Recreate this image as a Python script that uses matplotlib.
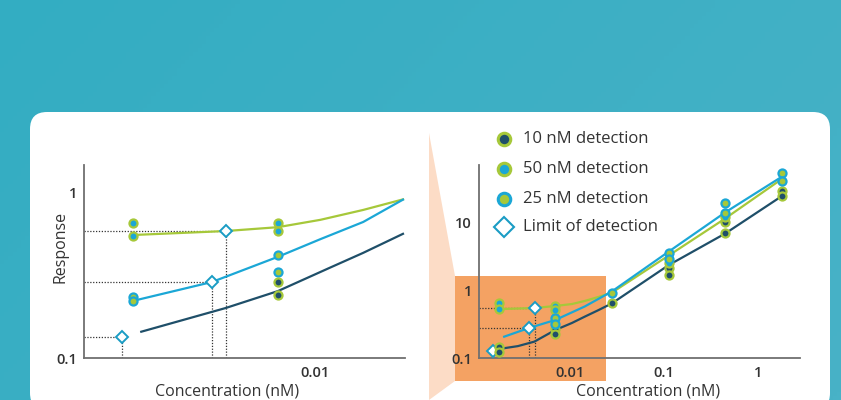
import numpy as np
import matplotlib
matplotlib.use("Agg")
import matplotlib.pyplot as plt
from matplotlib.patches import FancyBboxPatch, Polygon, Rectangle
from matplotlib.lines import Line2D
from matplotlib.colors import LinearSegmentedColormap

plt.rcParams['font.family'] = ['Open Sans', 'DejaVu Sans']

# ---------------- data ----------------
# Left (zoomed) panel
L_x50 = [0.00176, 0.00176, 0.007, 0.007]
L_y50 = [0.653, 0.544, 0.648, 0.582]
L_x25 = [0.00176, 0.00176, 0.007, 0.007]
L_y25 = [0.234, 0.22, 0.42, 0.331]
L_x10 = [0.007, 0.007]
L_y10 = [0.287, 0.24]

L_fit_green_x = [0.00176, 0.00425, 0.007, 0.0105, 0.0158, 0.0231]
L_fit_green_y = [0.551, 0.582, 0.614, 0.68, 0.78, 0.903]
L_fit_blue_x = [0.00176, 0.00373, 0.007, 0.0105, 0.0158, 0.0231]
L_fit_blue_y = [0.221, 0.287, 0.407, 0.52, 0.66, 0.90]
L_fit_dark_x = [0.0019, 0.00425, 0.007, 0.0115, 0.0158, 0.0231]
L_fit_dark_y = [0.144, 0.20, 0.253, 0.35, 0.43, 0.56]

L_lod_x = [0.00158, 0.00373, 0.00425]
L_lod_y = [0.134, 0.287, 0.582]

# Right (full) panel
R_x10 = [0.00176, 0.00176, 0.007, 0.007, 0.028, 0.1125, 0.1125, 0.45, 0.45, 1.8, 1.8]
R_y10 = [0.146, 0.123, 0.266, 0.227, 0.645, 2.14, 1.71, 10.2, 7.1, 29.8, 25.3]
R_x50 = [0.00176, 0.00176, 0.007, 0.007, 0.1125, 0.45]
R_y50 = [0.66, 0.53, 0.595, 0.51, 2.54, 12.3]
R_x25 = [0.007, 0.007, 0.028, 0.1125, 0.1125, 0.45, 0.45, 1.8, 1.8]
R_y25 = [0.387, 0.316, 0.93, 3.63, 2.93, 19.5, 13.9, 54.5, 41.8]

R_fit_green_x = [0.00176, 0.0042, 0.007, 0.0105, 0.0144, 0.02, 0.028, 0.1125, 0.45, 1.8]
R_fit_green_y = [0.53, 0.55, 0.59, 0.63, 0.70, 0.80, 0.93, 3.3, 11.7, 45]
R_fit_blue_x = [0.002, 0.00366, 0.007, 0.0144, 0.028, 0.1125, 0.45, 1.8]
R_fit_blue_y = [0.207, 0.278, 0.366, 0.58, 0.97, 3.77, 14.4, 48.6]
R_fit_dark_x = [0.00176, 0.0028, 0.0042, 0.007, 0.0105, 0.0144, 0.02, 0.028, 0.1125, 0.45, 1.8]
R_fit_dark_y = [0.136, 0.150, 0.175, 0.26, 0.33, 0.41, 0.51, 0.645, 2.38, 7.0, 25.1]

R_lod_x = [0.00153, 0.00366, 0.00424]
R_lod_y = [0.128, 0.278, 0.55]

legend_labels = ["10 nM detection", "50 nM detection", "25 nM detection", "Limit of detection"]

# ---------------- styles ----------------
GREEN = "#a6c83a"
BLUE = "#1ba7d6"
NAVY = "#1f4f69"
TEXT = "#333333"
AXIS = "#707070"
ORANGE = "#f4a263"
PEACH = "#fcdcc6"
DOT = "#333333"

W, H = 841, 400
fig = plt.figure(figsize=(W / 100, H / 100), dpi=100)
tr = fig.dpi_scale_trans


def P(x, y):
    return (x / 100.0, (H - y) / 100.0)


# background gradient
bg = fig.add_axes([0, 0, 1, 1], zorder=-10)
cmap = LinearSegmentedColormap.from_list("bg", ["#33adc2", "#48b2c7"])
gx, gy = np.meshgrid(np.linspace(0, 1, 200), np.linspace(0, 1, 100))
bg.imshow(0.7 * gx + 0.3 * gy, cmap=cmap, aspect="auto", extent=[0, 1, 0, 1], origin="upper")
bg.set_axis_off()

# white card
card = FancyBboxPatch(P(30, 410), 800 / 100, (410 - 112) / 100,
                      boxstyle="round,pad=0,rounding_size=0.17",
                      transform=tr, facecolor="white", edgecolor="none", zorder=-5)
fig.add_artist(card)
# peach connector and orange highlight
peach = Polygon([P(429, 133), P(455, 276), P(455, 381), P(429, 400)], closed=True,
                transform=tr, facecolor=PEACH, edgecolor="none", zorder=-4)
fig.add_artist(peach)
orange = Rectangle(P(455, 381), (606 - 455) / 100, (381 - 276) / 100, transform=tr,
                   facecolor=ORANGE, edgecolor="none", zorder=-3)
fig.add_artist(orange)

TICKFONT = dict(fontsize=10.5, fontweight="semibold", color=TEXT)


def make_ax(left_px, right_px, top_px, bottom_px):
    ax = fig.add_axes([left_px / W, (H - bottom_px) / H, (right_px - left_px) / W,
                       (bottom_px - top_px) / H])
    ax.set_facecolor("none")
    ax.set_xscale("log")
    ax.set_yscale("log")
    for s in ["top", "right"]:
        ax.spines[s].set_visible(False)
    for s in ["left", "bottom"]:
        ax.spines[s].set_color(AXIS)
        ax.spines[s].set_linewidth(1.3)
    ax.tick_params(which="both", length=0)
    ax.tick_params(axis="y", pad=5)
    ax.tick_params(axis="x", pad=6)
    ax.minorticks_off()
    return ax


def pts(ax, x, y, face, edge, ms=5.8):
    ax.plot(x, y, ls="none", marker="o", ms=ms, mfc=face, mec=edge, mew=1.6,
            zorder=5, clip_on=False)


def lods(ax, x, y, guides):
    x0 = ax.get_xlim()[0]
    y0 = ax.get_ylim()[0]
    for i in guides:
        ax.plot([x0, x[i]], [y[i], y[i]], color=DOT, lw=0.9, ls=(0, (1, 1.3)), zorder=1)
        ax.plot([x[i], x[i]], [y0, y[i]], color=DOT, lw=0.9, ls=(0, (1, 1.3)), zorder=1)
    ax.plot(x, y, ls="none", marker="D", ms=6.2, mfc="white", mec="#1a9cc4", mew=1.4,
            zorder=4, clip_on=False)


# ---------------- left panel ----------------
axL = make_ax(84, 405, 165, 358)
axL.set_xlim(0.0011, 0.02355)
axL.set_ylim(0.1, 1.455)
axL.plot(L_fit_green_x, L_fit_green_y, color=GREEN, lw=1.6, zorder=2)
axL.plot(L_fit_blue_x, L_fit_blue_y, color=BLUE, lw=1.6, zorder=2)
axL.plot(L_fit_dark_x, L_fit_dark_y, color=NAVY, lw=1.6, zorder=2)
lods(axL, L_lod_x, L_lod_y, [0, 1, 2])
pts(axL, L_x50, L_y50, BLUE, GREEN)
pts(axL, L_x25, L_y25, GREEN, BLUE)
pts(axL, L_x10, L_y10, NAVY, GREEN)
axL.set_xticks([0.01])
axL.set_xticklabels(["0.01"], **TICKFONT)
axL.set_yticks([0.1, 1])
axL.set_yticklabels(["0.1", "1"], **TICKFONT)
axL.set_xlabel("Concentration (nM)", fontsize=11.5, color=TEXT)
axL.xaxis.set_label_coords((227 - 84) / 321, (358 - 391) / 193)
axL.xaxis.label.set_va("center")
axL.set_ylabel("Response", fontsize=11.5, color=TEXT)
axL.yaxis.set_label_coords((60 - 84) / 321, (358 - 247) / 193)
axL.yaxis.label.set_va("center")

# ---------------- right panel ----------------
axR = make_ax(479, 800, 165, 358)
axR.set_xlim(0.00108, 2.8)
axR.set_ylim(0.1, 72.3)
axR.plot(R_fit_green_x, R_fit_green_y, color=GREEN, lw=1.6, zorder=2)
axR.plot(R_fit_blue_x, R_fit_blue_y, color=BLUE, lw=1.6, zorder=2)
axR.plot(R_fit_dark_x, R_fit_dark_y, color=NAVY, lw=1.6, zorder=2)
lods(axR, R_lod_x, R_lod_y, [1, 2])
pts(axR, R_x10, R_y10, NAVY, GREEN)
pts(axR, R_x50, R_y50, BLUE, GREEN)
pts(axR, R_x25, R_y25, GREEN, BLUE)
axR.set_xticks([0.01, 0.1, 1])
axR.set_xticklabels(["0.01", "0.1", "1"], **TICKFONT)
axR.set_yticks([0.1, 1, 10])
axR.set_yticklabels(["0.1", "1", "10"], **TICKFONT)
axR.set_xlabel("Concentration (nM)", fontsize=11.5, color=TEXT)
axR.xaxis.set_label_coords((648 - 479) / 321, (358 - 391) / 193)
axR.xaxis.label.set_va("center")

# ---------------- legend ----------------
leg_y = [139, 169, 199, 227]
leg_style = [dict(marker="o", mfc=NAVY, mec=GREEN, ms=9, mew=2.2),
             dict(marker="o", mfc=BLUE, mec=GREEN, ms=9, mew=2.2),
             dict(marker="o", mfc=GREEN, mec=BLUE, ms=9, mew=2.2),
             dict(marker="D", mfc="white", mec="#1a9cc4", ms=10, mew=1.5)]
for yy, lab, st in zip(leg_y, legend_labels, leg_style):
    fig.add_artist(Line2D([P(504, yy)[0]], [P(504, yy)[1]], transform=tr, ls="none", **st))
    fig.text(P(523, yy)[0] / (W / 100), P(523, yy)[1] / (H / 100), lab, fontsize=12,
             color=TEXT, va="center", ha="left")

fig.savefig("out.png", dpi=100)
